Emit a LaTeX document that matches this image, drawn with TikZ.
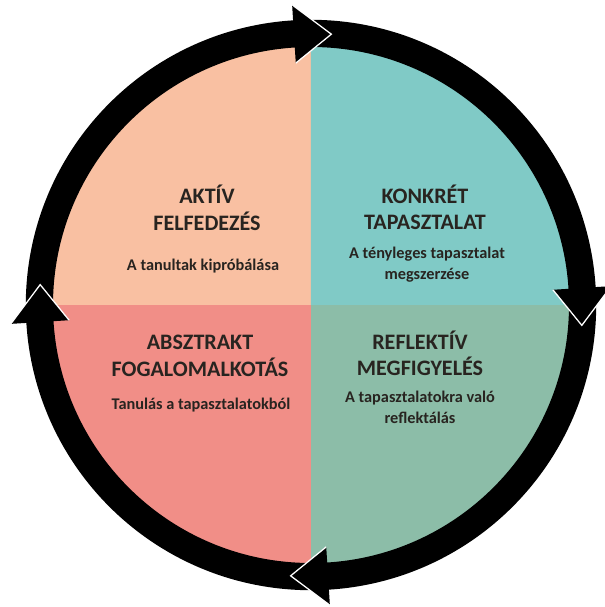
\documentclass[tikz,border=0pt]{standalone}
\usepackage{fontspec}
\setmainfont{Carlito}
\definecolor{klpeach}{RGB}{249,192,162}
\definecolor{klteal}{RGB}{128,202,198}
\definecolor{klsalmon}{RGB}{241,142,135}
\definecolor{klgreen}{RGB}{140,189,168}
\definecolor{kltext}{RGB}{40,36,32}
\usetikzlibrary{positioning}

\begin{document}
\begin{tikzpicture}[
  quadtitle/.style={font=\fontsize{15.7}{19}\selectfont\bfseries,align=center,
    text=kltext,inner sep=0pt},
  quadsub/.style={font=\fontsize{11.6}{15}\selectfont\bfseries,align=center,
    text=kltext,inner sep=0pt}
]
  \useasboundingbox (-7.775,-7.55) rectangle (7.35,7.625);

  % Quadrants
  \fill[klpeach] (0,0) -- (180:6.6) arc (180:90:6.6) -- cycle;
  \fill[klteal] (0,0) -- (90:6.6) arc (90:0:6.6) -- cycle;
  \fill[klgreen] (0,0) -- (0:6.6) arc (360:270:6.6) -- cycle;
  \fill[klsalmon] (0,0) -- (270:6.6) arc (270:180:6.6) -- cycle;

  % Ring
  \draw[line width=0.68cm] (0,0) circle (6.79);

  % Arrow heads (clockwise)
  \foreach \a in {90,0,-90,180} {
    \fill[black] ({\a+3.6}:7.52) -- ({\a-4.3}:6.79) -- ({\a+3.6}:6.06) -- cycle;
    \draw[white,line width=0.9pt,line join=miter]
      ({\a+3.6}:7.52) -- ({\a-4.3}:6.79) -- ({\a+3.6}:6.06);
  }

  % Texts
  \node[quadtitle] (aktiv) at (-2.6,2.425) {AKTÍV\\FELFEDEZÉS};
  \node[quadsub] (aktivsub) at (-2.7,0.975) {A tanultak kipróbálása};

  \node[quadtitle] (konkret) at (2.85,2.44) {KONKRÉT\\TAPASZTALAT};
  \node[quadsub] (konkretsub) at (2.9,1.01) {A tényleges tapasztalat\\megszerzése};

  \node[quadtitle] (absztrakt) at (-2.775,-1.275) {ABSZTRAKT\\FOGALOMALKOTÁS};
  \node[quadsub] (absztraktsub) at (-2.75,-2.5) {Tanulás a tapasztalatokból};

  \node[quadtitle] (reflektiv) at (2.725,-1.21) {REFLEKTÍV\\MEGFIGYELÉS};
  \node[quadsub] (reflektivsub) at (2.725,-2.56) {A tapasztalatokra való\\reflektálás};
\end{tikzpicture}
\end{document}
